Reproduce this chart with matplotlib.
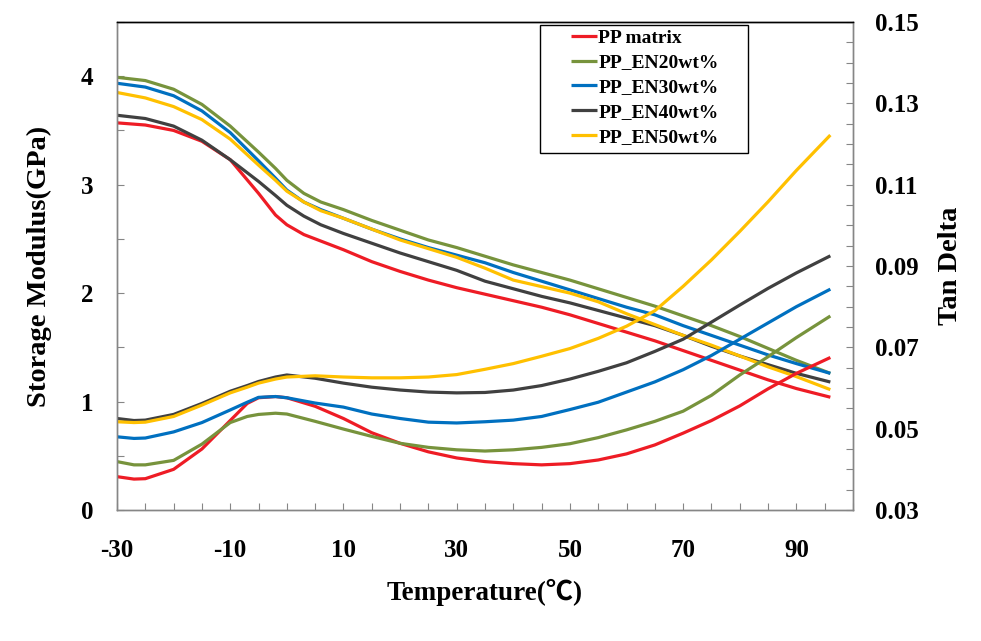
"""DMA curves: storage modulus (left axis) and tan delta (right axis) vs temperature."""

import numpy as np
import matplotlib

matplotlib.use("Agg")
import matplotlib.pyplot as plt
from matplotlib.patches import Rectangle
from matplotlib.ticker import MultipleLocator, FixedLocator


# storage modulus readings [GPa]
temp_modulus = [-30, -25, -20, -15, -10, -5, -2, 0, 3, 6, 10, 15, 20, 25, 30, 35,
                40, 45, 50, 55, 60, 65, 70, 75, 80, 85, 90, 96]
modulus_pp = [3.57, 3.55, 3.50, 3.40, 3.23, 2.92, 2.72, 2.63, 2.54, 2.48, 2.40, 2.29, 2.20, 2.12,
              2.05, 1.99, 1.93, 1.87, 1.80, 1.72, 1.64, 1.56, 1.47, 1.38, 1.29, 1.20, 1.12, 1.04]
modulus_en20 = [3.99, 3.96, 3.88, 3.74, 3.54, 3.30, 3.15, 3.04, 2.92, 2.84, 2.77, 2.67, 2.58, 2.49,
                2.42, 2.34, 2.26, 2.19, 2.12, 2.04, 1.96, 1.88, 1.79, 1.70, 1.60, 1.49, 1.38, 1.26]
modulus_en30 = [3.935, 3.90, 3.82, 3.68, 3.48, 3.22, 3.06, 2.95, 2.84, 2.77, 2.69, 2.59, 2.50, 2.42,
                2.35, 2.28, 2.19, 2.11, 2.03, 1.95, 1.87, 1.80, 1.70, 1.61, 1.52, 1.43, 1.35, 1.26]
modulus_en40 = [3.64, 3.61, 3.54, 3.41, 3.23, 3.03, 2.90, 2.81, 2.71, 2.63, 2.55, 2.46, 2.37, 2.29,
                2.21, 2.11, 2.04, 1.97, 1.91, 1.84, 1.77, 1.70, 1.61, 1.51, 1.42, 1.34, 1.26, 1.18]
modulus_en50 = [3.85, 3.80, 3.72, 3.60, 3.42, 3.18, 3.04, 2.94, 2.84, 2.76, 2.69, 2.59, 2.49, 2.41,
                2.33, 2.23, 2.12, 2.06, 2.00, 1.92, 1.81, 1.71, 1.61, 1.52, 1.42, 1.32, 1.23, 1.11]

# tan delta readings
temp_tan = [-30, -27, -25, -20, -15, -10, -7, -5, -2, 0, 5, 10, 15, 20, 25, 30, 35,
            40, 45, 50, 55, 60, 65, 70, 75, 80, 85, 90, 96]
tan_pp = [0.0382, 0.0376, 0.0377, 0.0400, 0.0450, 0.0520, 0.0562, 0.0576, 0.0579, 0.0576,
          0.0555, 0.0525, 0.0490, 0.0464, 0.0443, 0.0428, 0.0419, 0.0414, 0.0411, 0.0414,
          0.0423, 0.0438, 0.0460, 0.0489, 0.0520, 0.0556, 0.0598, 0.0636, 0.0675]
tan_en20 = [0.0419, 0.0411, 0.0411, 0.0422, 0.0462, 0.0515, 0.0530, 0.0535, 0.0538, 0.0536,
            0.0518, 0.0499, 0.0481, 0.0464, 0.0454, 0.0448, 0.0445, 0.0448, 0.0454, 0.0463,
            0.0478, 0.0497, 0.0518, 0.0543, 0.0582, 0.0632, 0.0677, 0.0724, 0.0777]
tan_en30 = [0.0480, 0.0476, 0.0477, 0.0492, 0.0515, 0.0546, 0.0565, 0.0577, 0.0579, 0.0576,
            0.0563, 0.0553, 0.0536, 0.0525, 0.0516, 0.0514, 0.0517, 0.0521, 0.0530, 0.0547,
            0.0565, 0.0590, 0.0615, 0.0645, 0.0680, 0.0720, 0.0760, 0.0800, 0.0843]
tan_en40 = [0.0525, 0.0520, 0.0521, 0.0535, 0.0562, 0.0592, 0.0606, 0.0616, 0.0627, 0.0632,
            0.0624, 0.0612, 0.0602, 0.0595, 0.0590, 0.0588, 0.0589, 0.0595, 0.0606, 0.0622,
            0.0641, 0.0662, 0.0690, 0.0720, 0.0762, 0.0804, 0.0845, 0.0883, 0.0925]
tan_en50 = [0.0517, 0.0515, 0.0516, 0.0530, 0.0558, 0.0588, 0.0602, 0.0612, 0.0622, 0.0627,
            0.0630, 0.0627, 0.0625, 0.0625, 0.0627, 0.0633, 0.0646, 0.0660, 0.0678, 0.0697,
            0.0722, 0.0752, 0.0790, 0.0850, 0.0915, 0.0985, 0.1058, 0.1135, 0.1222]

series_names = ["PP matrix", "PP_EN20wt%", "PP_EN30wt%", "PP_EN40wt%", "PP_EN50wt%"]
series_colors = ["#EE1C25", "#77933C", "#0070C0", "#404040", "#FFC000"]

x_ticks = [-30, -10, 10, 30, 50, 70, 90]
modulus_ticks = [0, 1, 2, 3, 4]
tan_ticks = [0.03, 0.05, 0.07, 0.09, 0.11, 0.13, 0.15]

FONT = ["Liberation Serif", "Noto Sans CJK SC", "DejaVu Sans"]
GREY = "#868686"

plt.rcParams["font.family"] = FONT
plt.rcParams["font.weight"] = "bold"
plt.rcParams["axes.unicode_minus"] = False

fig = plt.figure(figsize=(9.81, 6.41), dpi=100)
ax = fig.add_axes([117 / 981, (641 - 510) / 641, 736 / 981, 488 / 641])
ax2 = ax.twinx()

lines = []
for values, name, color in zip(
    [modulus_pp, modulus_en20, modulus_en30, modulus_en40, modulus_en50],
    series_names, series_colors,
):
    (line,) = ax.plot(temp_modulus, values, color=color, linewidth=2.3, label=name,
                      solid_capstyle="butt")
    lines.append(line)

for values, color in zip([tan_pp, tan_en20, tan_en30, tan_en40, tan_en50], series_colors):
    ax2.plot(temp_tan, values, color=color, linewidth=2.3, solid_capstyle="butt")

ax.set_xlim(-30, 100)
ax.set_ylim(0, 4.5)
ax2.set_ylim(0.03, 0.15)

ax.xaxis.set_major_locator(FixedLocator(x_ticks))
ax.xaxis.set_minor_locator(MultipleLocator(5))
ax.yaxis.set_major_locator(FixedLocator(modulus_ticks))
ax.yaxis.set_minor_locator(MultipleLocator(0.5))
ax2.yaxis.set_major_locator(FixedLocator(tan_ticks))
ax2.yaxis.set_minor_locator(MultipleLocator(0.005))
ax2.set_yticklabels([f"{v:.2f}" for v in tan_ticks])

tick_kw = dict(direction="in", length=5, width=0.8, color=GREY, labelsize=18,
               labelcolor="black")
ax.tick_params(axis="x", which="both", top=False, pad=21, **tick_kw)
ax.tick_params(axis="y", which="both", left=True, right=False, pad=17, **tick_kw)
ax2.tick_params(axis="y", which="both", left=False, right=True, pad=16, **tick_kw)
for axis in (ax, ax2):
    for label in axis.get_xticklabels() + axis.get_yticklabels():
        label.set_fontweight("bold")
    for side in ("left", "right", "bottom"):
        axis.spines[side].set_color(GREY)
        axis.spines[side].set_linewidth(1.0)
    axis.spines["top"].set_color("black")
    axis.spines["top"].set_linewidth(1.0)

ax.set_xlabel("Temperature(℃)", fontsize=19.5, fontweight="bold")
ax.xaxis.set_label_coords(0.5, -0.141)
ax.set_ylabel("Storage Modulus(GPa)", fontsize=20.5, fontweight="bold")
ax.yaxis.set_label_coords(-0.088, 0.5)
ax2.set_ylabel("Tan Delta", fontsize=20.5, fontweight="bold")
ax2.yaxis.set_label_coords(1.115, 0.5)

# legend box drawn as a plain rectangle, entries placed inside it
x0, x1 = (540 - 117) / 736, (748 - 117) / 736
y0, y1 = (510 - 153) / 488, (510 - 25) / 488
ax2.add_patch(Rectangle((x0, y0), x1 - x0, y1 - y0, transform=ax2.transAxes,
                        facecolor="white", edgecolor="black", linewidth=1.0, zorder=5))
legend = ax2.legend(lines, series_names, loc="upper left",
                    bbox_to_anchor=((573 - 117) / 736 - 0.005, y1 - 0.004),
                    frameon=False, borderaxespad=0, borderpad=0.1,
                    handlelength=1.3, handletextpad=0.1, labelspacing=0.37,
                    prop={"family": FONT, "weight": "bold", "size": 14})
legend.set_zorder(6)

fig.savefig("out.png", dpi=100)
